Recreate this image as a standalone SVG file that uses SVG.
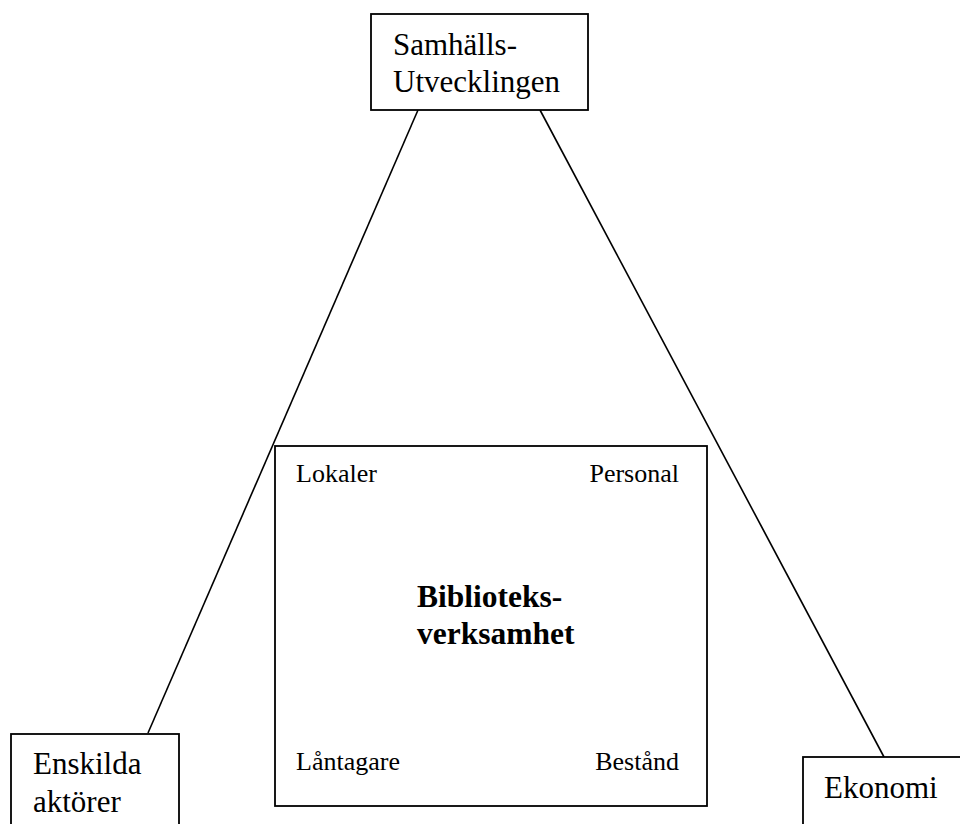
<svg xmlns="http://www.w3.org/2000/svg" width="960" height="824" viewBox="0 0 960 824">
<style>
.box{fill:#fff;stroke:#000;stroke-width:1.8}
.ln{stroke:#000;stroke-width:1.6;fill:none}
.t{font-family:"Liberation Serif","Times New Roman",serif;fill:#000}
.big{font-size:31px}
.sm{font-size:26px}
.bold{font-size:31.5px;font-weight:bold}
</style>
<rect width="960" height="824" fill="#fff"/>
<g id="connectors">
<line class="ln" x1="418" y1="110" x2="148" y2="733"/>
<line class="ln" x1="540" y1="110" x2="884" y2="757"/>
</g>
<g id="samhalls">
<rect class="box" x="371" y="14" width="217" height="96"/>
<text class="t big" x="393" y="55">Samhälls-</text>
<text class="t big" x="393" y="92">Utvecklingen</text>
</g>
<g id="bibliotek">
<rect class="box" x="275" y="446" width="432" height="360"/>
<text class="t sm" x="296" y="482">Lokaler</text>
<text class="t sm" x="679" y="482" text-anchor="end">Personal</text>
<text class="t bold" x="417" y="607">Biblioteks-</text>
<text class="t bold" x="417" y="644">verksamhet</text>
<text class="t sm" x="296" y="770">Låntagare</text>
<text class="t sm" x="679" y="770" text-anchor="end">Bestånd</text>
</g>
<g id="enskilda">
<rect class="box" x="11" y="734" width="168" height="110"/>
<text class="t big" x="33" y="774">Enskilda</text>
<text class="t big" x="33" y="812">aktörer</text>
</g>
<g id="ekonomi">
<rect class="box" x="803" y="757" width="180" height="90"/>
<text class="t big" x="824" y="798">Ekonomi</text>
</g>
</svg>
